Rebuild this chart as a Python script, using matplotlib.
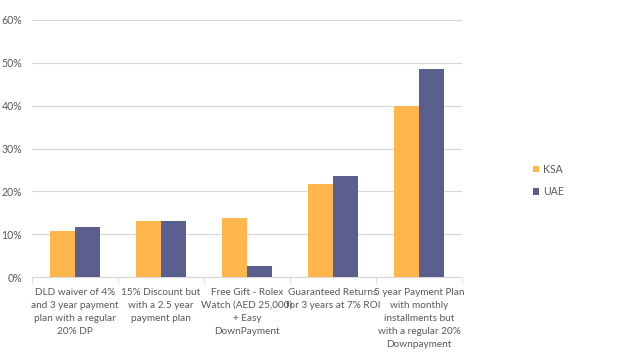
import numpy as np
import matplotlib.pyplot as plt
from matplotlib.ticker import PercentFormatter

categories = [
    'DLD waiver of 4%\nand 3 year payment\nplan with a regular\n20% DP',
    '15% Discount but\nwith a 2.5 year\npayment plan',
    'Free Gift - Rolex\nWatch (AED 25,000)\n+ Easy\nDownPayment',
    'Guaranteed Returns\nfor 3 years at 7% ROI',
    '5 year Payment Plan\nwith monthly\ninstallments but\nwith a regular 20%\nDownpayment',
]
ksa = [10.7, 13.1, 13.8, 21.7, 39.9]
uae = [11.7, 13.1, 2.6, 23.6, 48.6]

plt.rcParams['font.family'] = ['Lato', 'DejaVu Sans']
fig = plt.figure(figsize=(6.2, 3.62), dpi=100)
ax = fig.add_axes([32/620, (362-277)/362, 430/620, 257/362])

x = np.arange(len(categories))
w = 0.285
ax.bar(x - w/2, ksa, w, color='#FFB74D', label='KSA', zorder=3)
ax.bar(x + w/2, uae, w, color='#5A5F8F', label='UAE', zorder=3)

ax.set_xlim(-0.5, len(categories) - 0.5)
ax.set_ylim(0, 60)
ax.set_yticks(range(0, 61, 10))
ax.yaxis.set_major_formatter(PercentFormatter(decimals=0))
ax.grid(axis='y', color='#D9D9D9', linewidth=0.9, zorder=0)
for s in ['top', 'right', 'left']:
    ax.spines[s].set_visible(False)
ax.spines['bottom'].set_color('#D9D9D9')

ax.set_xticks(x)
ax.set_xticklabels(categories, fontsize=7.2, color='#595959', linespacing=1.55)
ax.tick_params(axis='x', length=0, pad=8)
ax.set_xticks(np.arange(-0.5, len(categories)), minor=True)
ax.tick_params(axis='x', which='minor', length=4, color='#D9D9D9')
ax.tick_params(axis='y', length=0, labelsize=7.6, labelcolor='#595959', pad=7)

ax.legend(loc='center left', bbox_to_anchor=(1.155, 0.375), frameon=False,
          fontsize=7.6, labelcolor='#595959', handlelength=0.6, handleheight=0.6,
          labelspacing=1.1, handletextpad=0.4, borderaxespad=0)

fig.savefig('out.png', dpi=100)
